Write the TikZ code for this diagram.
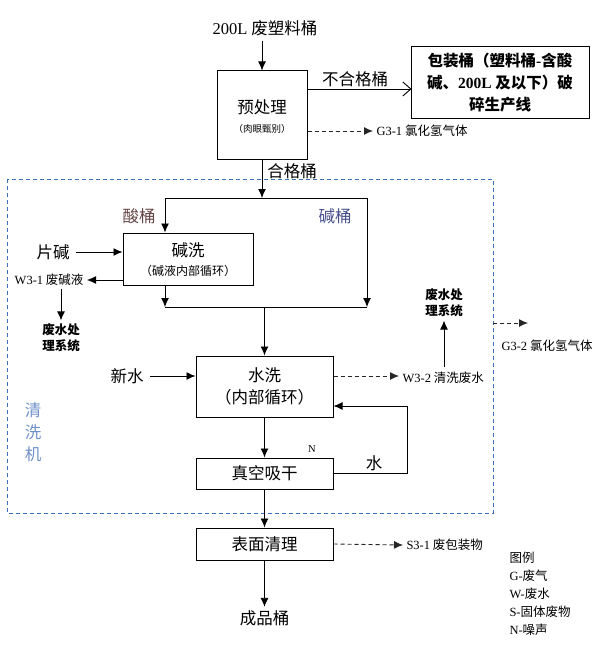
\documentclass[tikz,border=0pt]{standalone}
\usepackage{fontspec}
\setmainfont{Noto Sans CJK SC}
\newfontfamily\en{Liberation Serif}
\usetikzlibrary{arrows.meta}

\definecolor{framecol}{RGB}{60,110,190}
\definecolor{machcol}{RGB}{110,145,200}
\definecolor{acidcol}{RGB}{100,70,70}
\definecolor{basecol}{RGB}{70,80,140}

\begin{document}
\begin{tikzpicture}[
				x=1pt, y=-1pt,
				box/.style={
					draw,
					line width=1pt,
					align=center,
					inner sep=0pt
				},
				big/.style={font=\fontsize{16.5}{19}\selectfont},
				small/.style={font=\fontsize{12.5}{15}\selectfont},
				flow/.style={-{Latex[length=9pt,width=8pt]}, line width=0.9pt},
				gas/.style={-{Latex[length=9pt,width=8pt]}, line width=0.9pt, dash pattern=on 4pt off 3pt, black!85},
				>=latex
				]
				
				\useasboundingbox (0,0) rectangle (612,663);
				
				% cleaning machine frame
				\draw[framecol, line width=0.8pt, dash pattern=on 4pt off 3pt] (7,179) rectangle (493,513);
				\node[machcol, big, align=center] (mach) at (33,432) {清\\[3pt]洗\\[3pt]机};
				
				% boxes
				\node[box, minimum width=90pt, minimum height=89pt] (pre) at (262,115.5) {};
				\node[big] (pretxt) at (262,107) {预处理};
				\node[font=\fontsize{9.5}{11}\selectfont] (presub) at (262,129) {（肉眼甄别）};
				
				\node[box, minimum width=178pt, minimum height=72pt, font=\fontsize{15.5}{22}\selectfont\bfseries] (crush) at (500,83)
				{包装桶（塑料桶{\en -}含酸\\碱、{\en 200L} 及以下）破\\碎生产线};
				
				\node[box, minimum width=130pt, minimum height=52pt] (alk) at (188,259) {};
				\node[big] (alktxt) at (188,250) {碱洗};
				\node[font=\fontsize{12}{14}\selectfont] (alksub) at (188,271) {（碱液内部循环）};
				
				\node[box, minimum width=137pt, minimum height=61pt] (wash) at (264.5,386.5) {};
				\node[big] (washtxt) at (264.5,375) {水洗};
				\node[big] (washsub) at (264.5,397) {（内部循环）};
				
				\node[box, big, minimum width=137pt, minimum height=31pt] (dry) at (264.5,473.5) {真空吸干};
				\node[box, big, minimum width=137pt, minimum height=32pt] (clean) at (264.5,544) {表面清理};
				
				% texts
				\node[big] (raw) at (265,28) {{\en 200L} 废塑料桶};
				\node[big] (bad) at (355,79) {不合格桶};
				\node[big] (good) at (292,171) {合格桶};
				\node[big, acidcol] (acid) at (139,216) {酸桶};
				\node[big, basecol] (base) at (335,216) {碱桶};
				\node[big] (naoh) at (53,252) {片碱};
				\node[small, anchor=east] (w31) at (87,280) {{\en W3-1} 废碱液};
				\node[font=\fontsize{12.5}{16}\selectfont\bfseries, align=center] (ww1) at (61,338) {废水处\\理系统};
				\node[big] (fresh) at (127,376) {新水};
				\node[small, anchor=west] (w32) at (399,378) {{\en W3-2} 清洗废水};
				\node[font=\fontsize{12.5}{16}\selectfont\bfseries, align=center] (ww2) at (444,303) {废水处\\理系统};
				\node[small, anchor=west] (g32) at (498,346) {{\en G3-2} 氯化氢气体};
				\node[small, anchor=west] (g31) at (373,131) {{\en G3-1} 氯化氢气体};
				\node[font=\en\fontsize{10.5}{12}\selectfont] (noise) at (312,449) {N};
				\node[big] (water) at (374,463) {水};
				\node[small, anchor=west] (s31) at (403,545) {{\en S3-1} 废包装物};
				\node[big] (prod) at (264.5,618) {成品桶};
				\node[small, anchor=north west, align=left, font=\fontsize{12.5}{18}\selectfont] (legend) at (506,548)
				{图例\\{\en G-}废气\\{\en W-}废水\\{\en S-}固体废物\\{\en N-}噪声};
				
				% split / merge points
				\coordinate (top) at (262,198);
				\coordinate (topl) at (165,198);
				\coordinate (topr) at (367,198);
				\coordinate (botl) at (165,307);
				\coordinate (botr) at (367,307);
				\coordinate (bot) at (264.5,307);
				\coordinate (gasend) at (528,323);
				\coordinate (loop) at (407,406);
				
				% main flow
				\draw[flow] (raw.south -| pre.north) ++(0,2) -- (pre.north);
				\draw[-{Straight Barb[length=8pt,width=14pt]}, line width=0.9pt] (pre.east |- crush.west) ++(0,6) -- ++(104,0);
				\draw[flow] (pre.south) -- (top);
				\draw[line width=0.9pt] (topl) -- (topr);
				\draw[flow] (topl) -- (alk.north -| topl);
				\draw[flow] (topr) -- (botr);
				\draw[flow] (alk.south -| botl) -- (botl);
				\draw[line width=0.9pt] (botl) -- (botr);
				\draw[flow] (bot) -- (wash.north -| bot);
				\draw[flow] (naoh.east) ++(3,0) -- (alk.west |- naoh);
				\draw[flow] (alk.west |- w31) -- (w31.east);
				\draw[flow] (w31.south -| ww1) -- (ww1.north);
				\draw[flow] (fresh.east) ++(3,0) -- (wash.west |- fresh);
				\draw[flow] (w32.north -| ww2) ++(0,-2) -- (ww2.south);
				\draw[flow] (wash.south) -- (dry.north);
				\draw[flow] (dry.south) -- (clean.north);
				\draw[flow] (clean.south) -- (prod.north);
				\draw[flow] (dry.east) -| (loop) -- (wash.east |- loop);
				
				% emissions
				\draw[gas] (pre.east |- g31) -- (g31.west);
				\draw[gas] (wash.east |- fresh) -- (w32.west |- fresh);
				\draw[gas] (493,323) -- (gasend);
				\draw[gas] (clean.east) -- (s31.west);
				
			\end{tikzpicture}
\end{document}
